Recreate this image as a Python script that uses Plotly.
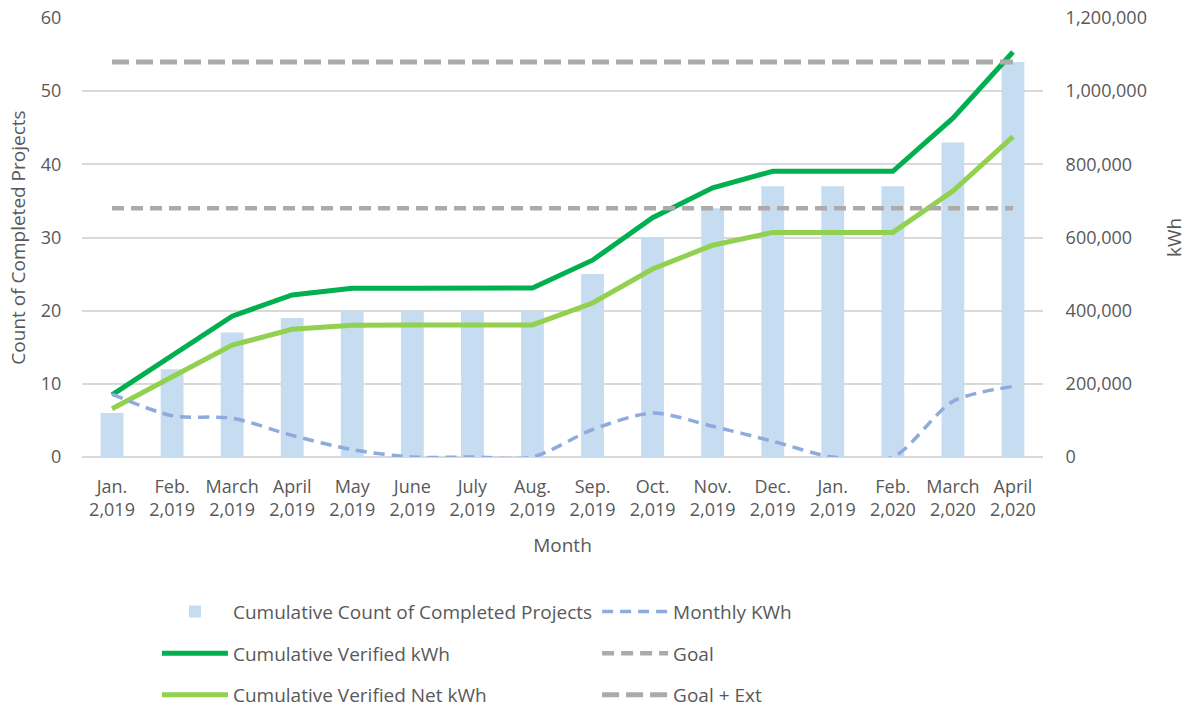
import plotly.graph_objects as go

months = ["Jan.", "Feb.", "March", "April", "May", "June", "July", "Aug.",
          "Sep.", "Oct.", "Nov.", "Dec.", "Jan.", "Feb.", "March", "April"]
years = ["2,019"] * 13 + ["2,020"] * 3
tick_labels = [f"{m}<br>{y}" for m, y in zip(months, years)]
xpos = list(range(len(months)))

projects = [6, 12, 17, 19, 20, 20, 20, 20, 25, 30, 34, 37, 37, 37, 43, 54]
monthly_kwh = [172000, 113000, 106000, 59000, 20000, 0, 0, 0,
               75000, 120000, 84000, 43000, 0, 0, 152000, 193000]
cum_verified = [170000, 278000, 385000, 443000, 461000, 461000, 462000, 462000,
                538000, 654000, 736000, 781000, 781000, 781000, 926000, 1107000]
cum_net = [132000, 218000, 306000, 349000, 360000, 361000, 361000, 361000,
           421000, 514000, 579000, 614000, 614000, 614000, 727000, 876000]
goal = [680000] * 16
goal_ext = [1080000] * 16

FONT = "Open Sans, Calibri, sans-serif"
TXT = "#595959"

fig = go.Figure()
fig.add_trace(go.Bar(x=xpos, y=projects, name="Cumulative Count of Completed Projects",
                     marker=dict(color="#C6DCF0", line=dict(width=0)), yaxis="y",
                     legend="legend", legendgroup="a"))
fig.add_trace(go.Scatter(x=xpos, y=cum_verified, name="Cumulative Verified kWh",
                         mode="lines", line=dict(color="#00B050", width=5), yaxis="y2",
                         legend="legend", legendgroup="b"))
fig.add_trace(go.Scatter(x=xpos, y=cum_net, name="Cumulative Verified Net kWh",
                         mode="lines", line=dict(color="#92D050", width=5), yaxis="y2",
                         legend="legend", legendgroup="c"))
fig.add_trace(go.Scatter(x=xpos, y=monthly_kwh, name="Monthly KWh",
                         mode="lines", line=dict(color="#8FAADC", width=3.5, dash="11px,7px",
                                                 shape="spline", smoothing=0.8),
                         yaxis="y2", legend="legend2", legendgroup="d"))
fig.add_trace(go.Scatter(x=xpos, y=goal, name="Goal",
                         mode="lines", line=dict(color="#AEAAAA", width=4.5, dash="12px,7px"),
                         yaxis="y2", legend="legend2", legendgroup="e"))
fig.add_trace(go.Scatter(x=xpos, y=goal_ext, name="Goal + Ext",
                         mode="lines", line=dict(color="#AEAAAA", width=5, dash="17px,7px"),
                         yaxis="y2", legend="legend2", legendgroup="f"))

legend_common = dict(orientation="v", yanchor="top", xanchor="left", itemwidth=66,
                     tracegroupgap=14, traceorder="grouped", bgcolor="rgba(0,0,0,0)",
                     yref="container", y=0.163,
                     font=dict(family=FONT, size=19, color=TXT), itemclick=False)

fig.update_layout(
    width=1188, height=708,
    margin=dict(l=82, r=145, t=18, b=251),
    paper_bgcolor="white", plot_bgcolor="white",
    font=dict(family=FONT, size=17, color=TXT),
    bargap=0.62,
    showlegend=True,
    xaxis=dict(range=[-0.5, 15.5], tickmode="array", tickvals=xpos, ticktext=tick_labels,
               showgrid=False, showline=False, zeroline=False,
               ticks="outside", ticklen=13, tickcolor="rgba(0,0,0,0)",
               tickfont=dict(size=18, color=TXT), automargin=False,
               title=dict(text="Month", font=dict(size=19, color=TXT), standoff=18)),
    yaxis=dict(range=[0, 60], dtick=10, showgrid=True, gridcolor="#D9D9D9", gridwidth=1.5,
               zeroline=True, zerolinecolor="#D9D9D9", zerolinewidth=1.5,
               tickfont=dict(size=18, color=TXT), ticks="outside", ticklen=16,
               tickcolor="rgba(0,0,0,0)", automargin=False,
               title=dict(text="Count of Completed Projects", font=dict(size=19, color=TXT), standoff=10)),
    yaxis2=dict(range=[0, 1200000], dtick=200000, overlaying="y", side="right",
                showgrid=False, zeroline=False, tickformat=",d",
                tickfont=dict(size=18, color=TXT), ticks="outside", ticklen=18,
                tickcolor="rgba(0,0,0,0)", automargin=False,
                title=dict(text="kWh", font=dict(size=19, color=TXT), standoff=21)),
    legend=dict(x=0.078, **legend_common),
    legend2=dict(x=0.536, **legend_common),
)

fig.write_html("out.html", config={"displayModeBar": False},
               post_script="document.body.style.margin='0px';")
